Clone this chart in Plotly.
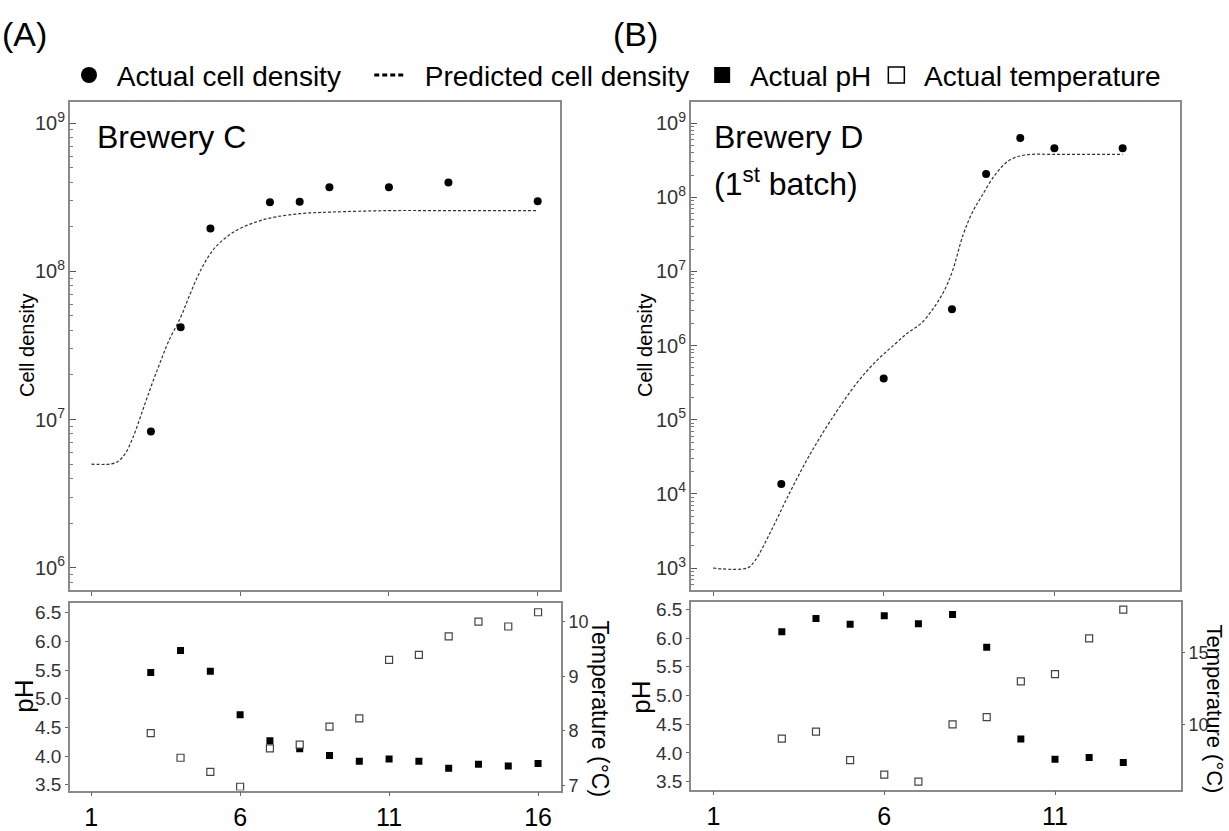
import plotly.graph_objects as go

# ---------------- data ----------------
# Panel A (Brewery C)
a_cell_days = [3, 4, 5, 7, 8, 9, 11, 13, 16]
a_cell_vals = [8.3e6, 4.2e7, 1.95e8, 2.93e8, 2.95e8, 3.7e8, 3.7e8, 3.98e8, 2.97e8]
a_pred_days = [1.0, 1.8, 2.1, 2.4, 2.7, 3.0, 3.3, 3.6, 4.0, 4.3, 4.6, 4.9, 5.2, 5.6,
               6.0, 6.5, 7.0, 8.0, 9.0, 11.0, 13.0, 16.0]
a_pred_vals = [5.0e6, 5.1e6, 5.75e6, 7.6e6, 1.12e7, 1.66e7, 2.4e7, 3.39e7, 4.9e7, 6.9e7,
               9.5e7, 1.23e8, 1.48e8, 1.74e8, 1.95e8, 2.14e8, 2.29e8, 2.45e8, 2.51e8,
               2.57e8, 2.57e8, 2.57e8]
a_env_days = [3, 4, 5, 6, 7, 8, 9, 10, 11, 12, 13, 14, 15, 16]
a_ph = [5.46, 5.84, 5.48, 4.72, 4.27, 4.13, 4.01, 3.91, 3.95, 3.91, 3.79, 3.86, 3.83, 3.87]
a_temp = [7.96, 7.51, 7.25, 6.98, 7.68, 7.75, 8.08, 8.23, 9.30, 9.39, 9.73, 10.00, 9.91, 10.17]

# Panel B (Brewery D, 1st batch)
b_cell_days = [3, 6, 8, 9, 10, 11, 13]
b_cell_vals = [1.36e4, 3.6e5, 3.1e6, 2.06e8, 6.3e8, 4.6e8, 4.6e8]
b_pred_days = [1.0, 2.0, 2.23, 2.7, 3.23, 3.8, 4.46, 5.22, 5.8, 6.28, 6.7, 7.1, 7.45, 7.75,
               8.01, 8.33, 8.6, 8.85, 9.26, 9.68, 10.14, 11.0, 12.0, 13.0]
b_pred_vals = [1.0e3, 1.0e3, 1.26e3, 3.16e3, 1.0e4, 3.16e4, 1.0e5, 3.16e5, 6.31e5, 1.0e6,
               1.48e6, 2.0e6, 3.16e6, 5.25e6, 1.0e7, 3.16e7, 6.31e7, 1.0e8, 2.0e8, 3.16e8,
               3.72e8, 3.8e8, 3.8e8, 3.8e8]
b_env_days = [3, 4, 5, 6, 7, 8, 9, 10, 11, 12, 13]
b_ph = [6.11, 6.34, 6.24, 6.39, 6.25, 6.41, 5.84, 4.24, 3.89, 3.92, 3.83]
b_temp = [9.0, 9.5, 7.5, 6.5, 6.0, 10.0, 10.5, 13.0, 13.5, 16.0, 18.0]

legend_names = ["Actual cell density", "Predicted cell density", "Actual pH", "Actual temperature"]

# ---------------- styling ----------------
FONT = "Liberation Sans, Arial, sans-serif"
W, H = 1229, 831
AXC = "#8a8a8a"
TXT = "#333333"
NB = "\u00a0"


def px(x):
    return x / W


def py(y):
    return 1 - y / H


fig = go.Figure()

dot = dict(symbol="circle", size=8, color="black")
sq = dict(symbol="square", size=7, color="black")
osq = dict(symbol="square", size=7, color="white", line=dict(color="#444444", width=1.2))
dash_line = dict(color="#333333", width=1.2, dash="3px,2px")

# Panel A top
fig.add_trace(go.Scatter(x=a_pred_days, y=a_pred_vals, mode="lines", line=dash_line,
                         line_shape="spline", xaxis="x", yaxis="y", showlegend=False))
fig.add_trace(go.Scatter(x=a_cell_days, y=a_cell_vals, mode="markers", marker=dot,
                         xaxis="x", yaxis="y", showlegend=False))
# Panel A bottom
fig.add_trace(go.Scatter(x=a_env_days, y=a_temp, mode="markers", marker=osq,
                         xaxis="x2", yaxis="y3", showlegend=False))
fig.add_trace(go.Scatter(x=a_env_days, y=a_ph, mode="markers", marker=sq,
                         xaxis="x2", yaxis="y2", showlegend=False))
# Panel B top
fig.add_trace(go.Scatter(x=b_pred_days, y=b_pred_vals, mode="lines", line=dash_line,
                         line_shape="spline", xaxis="x3", yaxis="y4", showlegend=False))
fig.add_trace(go.Scatter(x=b_cell_days, y=b_cell_vals, mode="markers", marker=dot,
                         xaxis="x3", yaxis="y4", showlegend=False))
# Panel B bottom
fig.add_trace(go.Scatter(x=b_env_days, y=b_temp, mode="markers", marker=osq,
                         xaxis="x4", yaxis="y6", showlegend=False))
fig.add_trace(go.Scatter(x=b_env_days, y=b_ph, mode="markers", marker=sq,
                         xaxis="x4", yaxis="y5", showlegend=False))

# legend-only entries (non-breaking spaces only tune the spacing of the legend row)
fig.add_trace(go.Scatter(x=[None], y=[None], mode="markers",
                         name=NB + legend_names[0] + NB * 3,
                         marker=dict(symbol="circle", size=16, color="black"),
                         xaxis="x", yaxis="y"))
fig.add_trace(go.Scatter(x=[None], y=[None], mode="lines",
                         name=NB * 2 + legend_names[1] + NB,
                         line=dict(color="black", width=3, dash="5px,3px"),
                         xaxis="x", yaxis="y"))
fig.add_trace(go.Scatter(x=[None], y=[None], mode="markers",
                         name=NB + legend_names[2],
                         marker=dict(symbol="square", size=18, color="black"),
                         xaxis="x", yaxis="y"))
fig.add_trace(go.Scatter(x=[None], y=[None], mode="markers",
                         name=NB + legend_names[3],
                         marker=dict(symbol="square", size=18, color="white",
                                     line=dict(color="black", width=1.5)),
                         xaxis="x", yaxis="y"))

box = dict(showline=True, linecolor=AXC, linewidth=1.5, mirror=True, showgrid=False,
           zeroline=False)

top_x_common = dict(box, tickmode="array", ticks="outside", ticklen=4, tickcolor="#666",
                    showticklabels=False)
bot_x_common = dict(box, tickmode="array", ticks="outside", ticklen=4, tickcolor="#666",
                    tickfont=dict(size=25, color="black", family=FONT))
log_y_common = dict(box, type="log", dtick=1, exponentformat="power", showexponent="all",
                    ticks="inside", ticklen=6, tickcolor="#555",
                    tickfont=dict(size=16, color=TXT, family=FONT),
                    minor=dict(ticks="inside", ticklen=3, tickcolor="#777", dtick="D1",
                               showgrid=False))
ph_common = dict(box, tickmode="array", tickvals=[3.5, 4.0, 4.5, 5.0, 5.5, 6.0, 6.5],
                 tickformat=".1f", ticks="outside", ticklen=3, tickcolor="#666",
                 tickfont=dict(size=19, color=TXT, family=FONT))
temp_common = dict(showgrid=False, zeroline=False, showline=False, side="right",
                   ticks="outside", ticklen=3, tickcolor="#666",
                   tickfont=dict(size=18, color=TXT, family=FONT))

fig.update_layout(
    width=W, height=H,
    margin=dict(l=0, r=0, t=0, b=0),
    paper_bgcolor="white", plot_bgcolor="white",
    font=dict(family=FONT, color="black"),
    # Panel A top
    xaxis=dict(top_x_common, domain=[px(70), px(560)], range=[0.28, 16.75],
               tickvals=[1, 6, 11, 16], anchor="y"),
    yaxis=dict(log_y_common, domain=[py(601), py(101)], range=[5.848, 9.145], anchor="x"),
    # Panel A bottom
    xaxis2=dict(bot_x_common, domain=[px(70), px(561)], range=[0.29, 16.77],
                tickvals=[1, 6, 11, 16], anchor="y2"),
    yaxis2=dict(ph_common, domain=[py(806), py(614)], range=[3.40, 6.67], anchor="x2"),
    yaxis3=dict(temp_common, overlaying="y2", anchor="x2", range=[6.91, 10.34],
                tickmode="array", tickvals=[7, 8, 9, 10]),
    # Panel B top
    xaxis3=dict(top_x_common, domain=[px(691), px(1180)], range=[0.355, 14.68],
                tickvals=[1, 6, 11], anchor="y4"),
    yaxis4=dict(log_y_common, domain=[py(601), py(101)], range=[2.70, 9.29], anchor="x3"),
    # Panel B bottom
    xaxis4=dict(bot_x_common, domain=[px(691), px(1181)], range=[0.34, 14.69],
                tickvals=[1, 6, 11], anchor="y5"),
    yaxis5=dict(ph_common, domain=[py(805), py(613)], range=[3.36, 6.63], anchor="x4"),
    yaxis6=dict(temp_common, overlaying="y5", anchor="x4", range=[5.45, 18.54],
                tickmode="array", tickvals=[10, 15]),
    legend=dict(orientation="h", x=px(69), y=py(74), xanchor="left", yanchor="middle",
                font=dict(size=28, color="black", family=FONT), itemsizing="trace",
                bgcolor="rgba(0,0,0,0)", itemwidth=30),
)

ann = []


def text(x, y, s, size, angle=0, xanchor="center", color="black"):
    ann.append(dict(x=px(x), y=py(y), xref="paper", yref="paper", text=s, showarrow=False,
                    textangle=angle, xanchor=xanchor, yanchor="middle",
                    font=dict(size=size, color=color, family=FONT)))


text(0, 32, "(A)", 34, xanchor="left")
text(611, 32, "(B)", 34, xanchor="left")
text(95, 137, "Brewery C", 32, xanchor="left")
text(712, 137, "Brewery D", 32, xanchor="left")
text(712, 183, "(1<sup>st</sup> batch)", 32, xanchor="left")
text(27, 351, "Cell density", 20, angle=-90)
text(645, 351, "Cell density", 20, angle=-90)
text(24, 710, "pH", 26, angle=-90)
text(641, 710, "pH", 26, angle=-90)
text(600, 722, "Temperature (°C)", 23, angle=90)
text(1215, 722, "Temperature (°C)", 22, angle=90)
fig.update_layout(annotations=ann)

fig.write_html("out.html")
